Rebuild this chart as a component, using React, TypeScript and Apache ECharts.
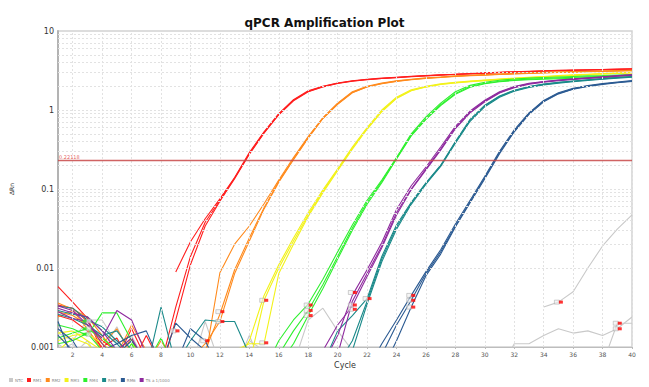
import React, { useEffect, useRef } from "react";
import * as echarts from "echarts";

const TITLE = "qPCR Amplification Plot";
const X_NAME = "Cycle";
const Y_NAME = "ΔRn";
const THRESHOLD = 0.226;
const THRESHOLD_LABEL = "0.22118";

const cycles = [1,2,3,4,5,6,7,8,9,10,11,12,13,14,15,16,17,18,19,20,21,22,23,24,25,26,27,28,29,30,31,32,33,34,35,36,37,38,39,40];
const xTicks = [2,4,6,8,10,12,14,16,18,20,22,24,26,28,30,32,34,36,38,40];
const yMinorGrid = [0.002,0.003,0.004,0.005,0.006,0.007,0.008,0.009,0.01,0.02,0.03,0.04,0.05,0.06,0.07,0.08,0.09,0.1,0.2,0.3,0.4,0.5,0.6,0.7,0.8,0.9,1,2,3,4,5,6,7,8,9];

// NTC
const ntcA = [0.0015,0.0012,0.0022,0.0022,0.0011,0.0014,0.0006,0.0005,0.0006,0.0005,0.0006,0.0005,0.0006,0.0012,0.0009,0.0005,0.0006,0.0022,0.0031,0.0016,0.0009,null,null,null,null,null,null,null,null,null,null,null,null,0.0032,0.0037,0.005,0.01,0.019,0.031,0.047];
const ntcB = [0.0009,0.0011,0.0006,0.0009,0.0018,0.0007,0.0005,0.0006,0.0005,0.0006,0.0005,0.0005,0.0006,0.0005,0.0006,0.0005,0.0005,0.0006,0.0005,0.0005,0.0006,0.0005,0.0005,0.0006,0.0005,0.0005,0.0006,0.0005,0.0005,0.0006,0.0005,0.0011,0.0011,0.0014,0.0017,0.0015,0.0016,0.0014,0.0017,0.0024];
const ntcC = [0.0011,0.0008,0.0012,0.0006,0.0005,0.0006,0.0005,0.0006,0.0005,0.0005,0.0021,0.0006,0.0005,0.0014,0.0005,0.0006,0.0005,0.0005,0.0006,0.0005,0.0005,0.0006,0.0005,0.0005,0.0006,0.0005,0.0005,0.0006,0.0005,0.0005,0.0006,0.0005,0.0005,0.0006,0.0005,0.0005,0.0006,0.0006,0.002,0.002];

// RM1
const rm1A = [0.0058,0.0037,0.0023,0.0009,0.0007,0.0017,0.0007,null,0.0089,0.0215,0.042,0.075,0.14,0.29,0.53,0.9,1.35,1.75,2.0,2.2,2.35,2.45,2.53,2.6,2.67,2.73,2.79,2.84,2.9,2.95,3.0,3.05,3.09,3.13,3.17,3.2,3.23,3.26,3.29,3.32];
const rm1B = [0.0034,0.0031,0.0021,0.0012,0.0009,0.0006,0.0014,0.0006,0.0032,0.014,0.038,0.072,0.138,0.28,0.52,0.88,1.33,1.72,1.98,2.18,2.33,2.43,2.51,2.58,2.65,2.71,2.77,2.83,2.88,2.93,2.98,3.03,3.07,3.11,3.15,3.18,3.21,3.24,3.27,3.3];
const rm1C = [0.0025,0.0022,0.0016,0.001,0.0013,0.0006,0.0009,0.0005,0.0022,0.011,0.034,0.07,0.135,0.275,0.51,0.87,1.31,1.7,1.96,2.16,2.31,2.41,2.5,2.57,2.64,2.7,2.76,2.82,2.87,2.92,2.97,3.02,3.06,3.1,3.14,3.17,3.2,3.23,3.26,3.29];

// RM2
const rm2A = [0.0036,0.003,0.0024,0.0014,0.0008,0.0019,0.0009,0.0006,0.0007,0.0006,0.0007,0.0087,0.02,0.034,0.065,0.13,0.25,0.46,0.8,1.22,1.7,2.0,2.2,2.35,2.45,2.55,2.62,2.7,2.75,2.8,2.85,2.9,2.95,3.0,3.03,3.06,3.09,3.12,3.15,3.18];
const rm2B = [0.0028,0.0025,0.0019,0.0011,0.0017,0.0008,0.0006,0.0012,0.0006,0.0005,0.0009,0.0026,0.0095,0.024,0.058,0.125,0.24,0.45,0.79,1.2,1.67,1.97,2.17,2.32,2.43,2.52,2.6,2.67,2.73,2.78,2.83,2.88,2.93,2.97,3.01,3.04,3.07,3.1,3.13,3.16];
const rm2C = [0.0024,0.0029,0.0017,0.0009,0.0007,0.0013,0.0005,0.0008,0.0006,0.0007,0.0011,0.0021,0.0085,0.022,0.056,0.122,0.235,0.44,0.78,1.18,1.65,1.95,2.15,2.3,2.41,2.5,2.58,2.65,2.71,2.76,2.81,2.86,2.91,2.95,2.99,3.02,3.05,3.08,3.11,3.14];

// RM3
const rm3A = [0.0015,0.0016,0.0012,0.0009,0.0006,0.0011,0.0007,0.0005,0.0006,0.0005,0.0007,0.0005,0.0006,0.0012,0.0045,0.011,0.024,0.05,0.098,0.18,0.34,0.6,1.0,1.45,1.8,2.0,2.15,2.25,2.33,2.4,2.47,2.53,2.6,2.66,2.72,2.78,2.84,2.9,2.95,3.0];
const rm3B = [0.0012,0.0014,0.0015,0.0011,0.0008,0.0005,0.0009,0.0006,0.0005,0.0006,0.0005,0.0006,0.0005,0.0006,0.0039,0.01,0.022,0.047,0.094,0.175,0.33,0.58,0.97,1.42,1.77,1.97,2.12,2.22,2.3,2.37,2.44,2.5,2.57,2.63,2.69,2.75,2.81,2.87,2.92,2.97];
const rm3C = [0.0009,0.0013,0.0011,0.0007,0.0005,0.0008,0.0005,0.0006,0.0005,0.0005,0.0006,0.0005,0.0009,0.0011,0.0011,0.0085,0.02,0.045,0.09,0.17,0.32,0.57,0.95,1.4,1.75,1.95,2.1,2.2,2.28,2.35,2.42,2.48,2.55,2.61,2.67,2.73,2.79,2.85,2.9,2.95];

// RM4
const rm4A = [0.0019,0.0017,0.0014,0.0027,0.0027,0.0012,0.0006,0.0013,0.0005,0.0005,0.0005,0.0006,0.0005,0.0006,0.0005,0.0012,0.0022,0.0035,0.0072,0.016,0.035,0.072,0.13,0.25,0.5,0.82,1.22,1.7,2.05,2.25,2.38,2.47,2.53,2.58,2.62,2.66,2.7,2.73,2.77,2.8];
const rm4B = [0.0013,0.0015,0.0017,0.0013,0.0009,0.0006,0.0005,0.0006,0.0005,0.0005,0.0006,0.0005,0.0005,0.0006,0.0005,0.0008,0.0016,0.0029,0.0062,0.014,0.032,0.068,0.125,0.245,0.48,0.78,1.17,1.62,1.98,2.18,2.31,2.4,2.46,2.51,2.55,2.59,2.63,2.67,2.71,2.74];
const rm4C = [0.0011,0.0012,0.0015,0.0009,0.0006,0.0011,0.0005,0.0005,0.0006,0.0005,0.0005,0.0005,0.0006,0.0005,0.0005,0.0006,0.0011,0.0025,0.0055,0.013,0.03,0.064,0.12,0.24,0.47,0.76,1.14,1.58,1.94,2.15,2.28,2.36,2.41,2.45,2.49,2.52,2.55,2.58,2.61,2.64];

// RM5
const rm5A = [0.0033,0.0031,0.0022,0.0018,0.0012,0.0008,0.0005,0.0032,0.0006,0.0012,0.0022,0.0021,0.0021,0.0008,0.0006,0.0005,0.0006,0.0005,0.0006,0.0016,0.0025,0.0041,0.014,0.035,0.068,0.12,0.2,0.4,0.76,1.15,1.5,1.78,1.98,2.13,2.24,2.33,2.42,2.5,2.58,2.65];
const rm5B = [0.0029,0.0026,0.0024,0.0016,0.0011,0.0007,0.0006,0.0005,0.0006,0.0005,0.0006,0.0005,0.0006,0.0005,0.0006,0.0005,0.0005,0.0006,0.0005,0.0006,0.0012,0.0038,0.013,0.033,0.066,0.118,0.197,0.39,0.74,1.13,1.48,1.76,1.96,2.11,2.22,2.31,2.4,2.48,2.56,2.63];
const rm5C = [0.0026,0.0023,0.0019,0.0014,0.0016,0.0009,0.0006,0.0005,0.0005,0.0006,0.0005,0.0005,0.0006,0.0005,0.0005,0.0006,0.0005,0.0005,0.0006,0.0005,0.0009,0.0035,0.012,0.031,0.064,0.115,0.193,0.38,0.72,1.1,1.45,1.73,1.93,2.08,2.19,2.28,2.37,2.45,2.53,2.6];

// RM6
const rm6A = [0.0021,0.0007,0.0005,0.0009,0.0011,0.0014,0.0016,0.0006,0.002,0.0013,0.0009,0.0006,0.0005,0.0006,0.0005,0.0006,0.0005,0.0005,0.0006,0.0005,0.0006,0.0005,0.0011,0.0022,0.0045,0.009,0.017,0.036,0.072,0.145,0.3,0.56,0.92,1.32,1.65,1.88,2.04,2.16,2.26,2.36];
const rm6B = [0.0017,0.0012,0.0006,0.0005,0.0008,0.0012,0.0007,0.0005,0.0006,0.0017,0.0012,0.0005,0.0006,0.0005,0.0005,0.0006,0.0005,0.0006,0.0005,0.0005,0.0006,0.0005,0.0008,0.0019,0.0039,0.0085,0.016,0.034,0.069,0.14,0.29,0.54,0.9,1.3,1.62,1.85,2.01,2.13,2.23,2.33];
const rm6C = [0.0014,0.0009,0.0005,0.0006,0.0005,0.0009,0.0006,0.0005,0.0005,0.0006,0.0005,0.0005,0.0006,0.0005,0.0005,0.0006,0.0005,0.0005,0.0006,0.0005,0.0005,0.0006,0.0005,0.0012,0.0032,0.008,0.015,0.033,0.067,0.135,0.28,0.53,0.88,1.27,1.6,1.83,1.99,2.11,2.21,2.3];

// TS a 1/1000
const tsA = [0.0033,0.0029,0.0019,0.0013,0.0029,0.0022,0.0008,0.0005,0.0006,0.0005,0.0006,0.0005,0.0005,0.0006,0.0005,0.0005,0.0006,0.0005,0.0006,0.0014,0.0045,0.0095,0.021,0.055,0.11,0.19,0.34,0.62,0.97,1.33,1.7,1.98,2.18,2.3,2.4,2.48,2.56,2.64,2.72,2.8];
const tsB = [0.0031,0.0027,0.0024,0.0016,0.0009,0.0013,0.0006,0.0005,0.0005,0.0006,0.0005,0.0005,0.0006,0.0005,0.0006,0.0005,0.0005,0.0006,0.0005,0.0008,0.0038,0.0085,0.019,0.05,0.1,0.18,0.32,0.6,0.94,1.3,1.67,1.95,2.15,2.28,2.38,2.46,2.54,2.62,2.7,2.78];
const tsC = [0.0028,0.0023,0.0021,0.0011,0.0007,0.0006,0.0005,0.0006,0.0005,0.0005,0.0006,0.0005,0.0005,0.0006,0.0005,0.0005,0.0006,0.0005,0.0009,0.0019,0.0033,0.0078,0.018,0.047,0.098,0.175,0.31,0.58,0.92,1.27,1.64,1.92,2.12,2.25,2.35,2.43,2.51,2.59,2.67,2.75];

// baseline markers
const markerRedX = [9.05,11.07,12.1,12.1,15.08,15.08,18.1,18.1,18.1,21.1,21.1,21.1,22.1,25.07,25.07,25.07,35.1,39.1,39.1];
const markerRedY = [0.0016,0.0012,0.0028,0.0021,0.0039,0.00113,0.0034,0.0029,0.0025,0.0049,0.0034,0.003,0.0041,0.0045,0.0039,0.0032,0.0037,0.002,0.0017];
const markerGreenX = [2.87,2.87,2.87];
const markerGreenY = [0.00213,0.0017,0.00145];

const groupNames = ["NTC","RM1","RM2","RM3","RM4","RM5","RM6","TS a 1/1000"];
const groupColors = ["#c9c9c9","#ff1e1e","#ff8a1c","#f2f21a","#2ef02e","#1b8a8a","#2b5a92","#8e2a9e"];
const groupReps = [
  [ntcA, ntcB, ntcC],
  [rm1A, rm1B, rm1C],
  [rm2A, rm2B, rm2C],
  [rm3A, rm3B, rm3C],
  [rm4A, rm4B, rm4C],
  [rm5A, rm5B, rm5C],
  [rm6A, rm6B, rm6C],
  [tsA, tsB, tsC],
];

export default function App() {
  const ref = useRef<HTMLDivElement>(null);
  useEffect(() => {
    document.body.style.margin = "0";
    if (!ref.current) return;
    const chart = echarts.init(ref.current, null, { renderer: "svg" });
    const series: any[] = [];
    series.push({
      type: "line",
      name: "__grid",
      data: [[1, 0.0005]],
      symbol: "none",
      silent: true,
      lineStyle: { opacity: 0 },
      z: 1,
      markLine: {
        silent: true,
        symbol: ["none", "none"],
        label: { show: false },
        lineStyle: { color: "#e2e2e2", type: [2, 2], width: 1 },
        data: [
          ...yMinorGrid.map((v) => ({ yAxis: v })),
          ...xTicks.map((v) => ({ xAxis: v })),
        ],
      },
    });
    groupNames.forEach((name, gi) => {
      groupReps[gi].forEach((rep) => {
        series.push({
          type: "line",
          name,
          data: cycles.map((c, i) => [c, rep[i]]),
          symbol: "none",
          connectNulls: false,
          clip: true,
          lineStyle: { width: 1.1, color: groupColors[gi] },
          itemStyle: { color: groupColors[gi] },
          z: 3,
        });
      });
    });
    series.push({
      type: "line",
      name: "__threshold",
      data: [[1, 0.0005]],
      symbol: "none",
      silent: true,
      lineStyle: { opacity: 0 },
      z: 4,
      markLine: {
        silent: true,
        symbol: ["none", "none"],
        lineStyle: { color: "#c84848", type: "solid", width: 1.4, opacity: 0.85 },
        label: {
          show: true,
          position: "insideStartTop",
          formatter: THRESHOLD_LABEL,
          fontSize: 5,
          color: "#e03a3a",
          distance: 1,
        },
        data: [{ yAxis: THRESHOLD }],
      },
    });
    series.push({
      type: "scatter",
      name: "__mk1",
      data: markerRedX.map((x, i) => [x, markerRedY[i]]),
      symbol: "rect",
      symbolSize: [5, 4],
      symbolOffset: [-3, 0],
      itemStyle: { color: "rgba(240,240,240,0.8)", borderColor: "#aaa", borderWidth: 0.7 },
      z: 5,
      silent: true,
    });
    series.push({
      type: "scatter",
      name: "__mk2",
      data: markerRedX.map((x, i) => [x, markerRedY[i]]),
      symbol: "rect",
      symbolSize: [4, 3],
      symbolOffset: [1, 0],
      itemStyle: { color: "#ff0000" },
      z: 6,
      silent: true,
    });
    series.push({
      type: "scatter",
      name: "__mk3",
      data: markerGreenX.map((x, i) => [x, markerGreenY[i]]),
      symbol: "rect",
      symbolSize: [5, 4],
      symbolOffset: [3, 0],
      itemStyle: { color: "rgba(240,240,240,0.8)", borderColor: "#aaa", borderWidth: 0.7 },
      z: 5,
      silent: true,
    });
    series.push({
      type: "scatter",
      name: "__mk4",
      data: markerGreenX.map((x, i) => [x, markerGreenY[i]]),
      symbol: "rect",
      symbolSize: [4, 3],
      symbolOffset: [-1, 0],
      itemStyle: { color: "#22ee22" },
      z: 6,
      silent: true,
    });

    chart.setOption({
      animation: false,
      backgroundColor: "#ffffff",
      textStyle: { fontFamily: "DejaVu Sans" },
      title: {
        text: TITLE,
        left: "center",
        top: 12,
        textStyle: { fontSize: 12, fontWeight: "bold", color: "#111", fontFamily: "DejaVu Sans" },
      },
      legend: {
        data: groupNames,
        left: 4,
        top: 373,
        icon: "rect",
        itemWidth: 4,
        itemHeight: 4,
        itemGap: 4,
        textStyle: { fontSize: 4, color: "#888", padding: [0, 0, 0, -3] },
        selectedMode: false,
      },
      grid: {
        left: 54,
        right: 17,
        top: 31,
        bottom: 40,
        show: true,
        borderColor: "#d2d2d2",
        borderWidth: 1.5,
      },
      xAxis: {
        type: "value",
        min: 1,
        max: 40,
        name: X_NAME,
        nameLocation: "middle",
        nameGap: 13,
        nameTextStyle: { fontSize: 8, color: "#333" },
        axisLine: { show: true, lineStyle: { color: "#bdbdbd", width: 1 } },
        axisTick: { show: true, customValues: xTicks, length: 2, lineStyle: { color: "#bbb" } },
        axisLabel: { customValues: xTicks, fontSize: 6, color: "#555", margin: 4 },
        splitLine: { show: false },
      },
      yAxis: {
        type: "log",
        logBase: 10,
        min: 0.001,
        max: 10,
        name: Y_NAME,
        nameLocation: "middle",
        nameGap: 44,
        nameRotate: 90,
        nameTextStyle: { fontSize: 6, color: "#333" },
        axisLine: { show: true, lineStyle: { color: "#b3b3b3", width: 2 } },
        axisTick: { show: false },
        axisLabel: { fontSize: 8, color: "#333", margin: 4 },
        splitLine: { show: false },
      },
      series,
    });
    return () => chart.dispose();
  }, []);
  return <div ref={ref} style={{ width: 649, height: 387 }} />;
}
